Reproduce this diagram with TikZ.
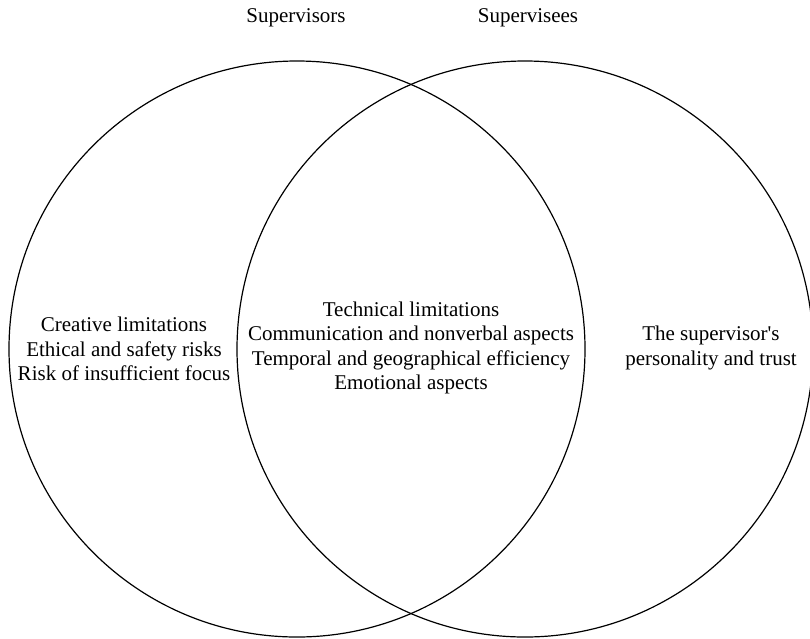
\documentclass[tikz,border=0pt]{standalone}
\usepackage{fontspec}
\setmainfont{Liberation Serif}[Ligatures=TeXOff]
\usepackage{tikz}
\usetikzlibrary{positioning}

\tikzset{
    set/.style={circle, draw, line width=1.2pt, minimum size=576pt, inner sep=0pt},
    txt/.style={align=center, font=\fontsize{21}{24.5}\selectfont, inner sep=0pt}
}

\begin{document}
\begin{tikzpicture}[x=1pt, y=-1pt]
        \useasboundingbox (0,0) rectangle (810,638);

        \node[set] (sv) at (297,349) {};
        \node[set] (se) at (525,349) {};

        \node[txt] (svt) at (296,18) {Supervisors};
        \node[txt] (set) at (528,18) {Supervisees};

        \node[txt] (left)  at (124,349) {Creative limitations\\Ethical and safety risks\\Risk of insufficient focus};
        \node[txt] (both)  at (411,348) {Technical limitations\\Communication and nonverbal aspects\\Temporal and geographical efficiency\\Emotional aspects};
        \node[txt] (right) at (711,348) {The supervisor's\\personality and trust};
\end{tikzpicture}
\end{document}
